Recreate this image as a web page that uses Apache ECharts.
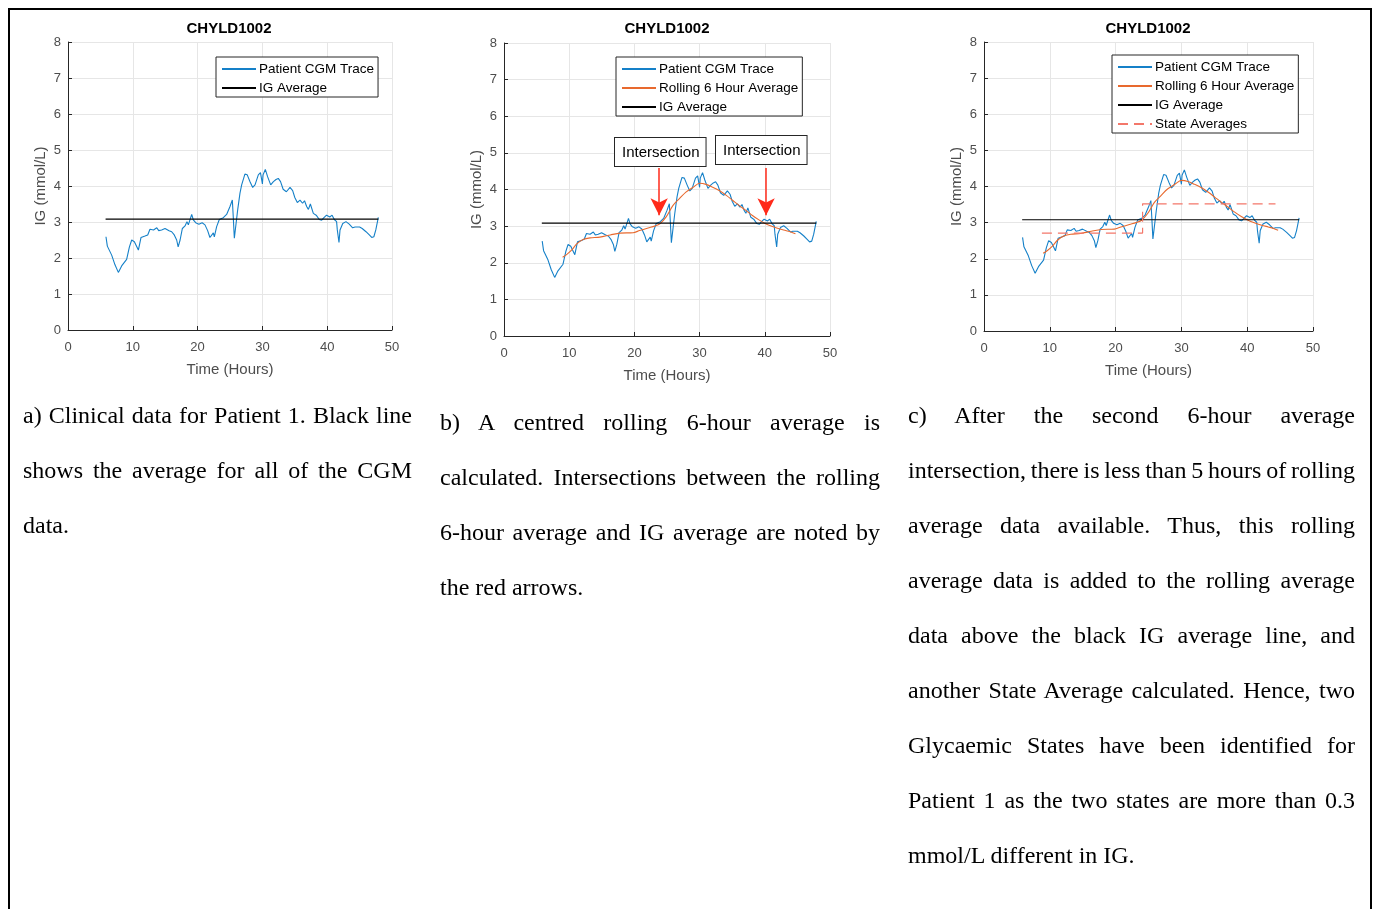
<!DOCTYPE html>
<html>
<head>
<meta charset="utf-8">
<script src="https://cdn.jsdelivr.net/npm/echarts@6/dist/echarts.min.js"></script>
<style>
  html, body { margin: 0; padding: 0; background: #fff; overflow: hidden; }
  #frame { position: absolute; left: 8px; top: 8px; width: 1364px; height: 930px; border: 2px solid #000; box-sizing: border-box; }
  #chart { position: absolute; left: 0; top: 0; width: 1375px; height: 909px; }
  .cap { position: absolute; font-family: "Liberation Serif", "Times New Roman", serif; font-size: 24px; color: #000; }
  .cap div { height: 55px; line-height: 55px; white-space: nowrap; text-align: justify; text-align-last: justify; word-spacing: -1.5px; }
  .cap div.last { text-align: left; text-align-last: left; word-spacing: 0; }
</style>
</head>
<body>
<div id="frame"></div>
<div id="chart"></div>
<div class="cap" id="capA" style="left:23px; top:388px; width:389px;"></div>
<div class="cap" id="capB" style="left:440px; top:395px; width:440px;"></div>
<div class="cap" id="capC" style="left:908px; top:388px; width:447px;"></div>
<script>
// ---- data ----
const chartTitle = 'CHYLD1002';
const xTicks = [0, 10, 20, 30, 40, 50];
const yTicks = [0, 1, 2, 3, 4, 5, 6, 7, 8];
const cgmTrace = [
  [5.86,2.59],[6.07,2.33],[6.33,2.30],[6.74,2.08],[7.25,1.81],[7.77,1.60],[8.28,1.78],[9.05,1.96],
  [9.47,2.30],[9.83,2.50],[10.24,2.45],[10.44,2.50],[10.86,2.22],[11.27,2.57],[11.88,2.61],[12.3,2.64],
  [12.65,2.80],[13.2,2.78],[13.7,2.84],[14.0,2.76],[14.45,2.78],[14.97,2.82],[15.2,2.78],[15.6,2.76],
  [16.0,2.73],[16.4,2.64],[16.77,2.50],[17.0,2.31],[17.3,2.50],[17.65,2.82],[18.06,2.89],[18.36,3.01],
  [18.57,2.92],[18.83,2.96],[19.09,3.21],[19.34,3.06],[19.7,2.98],[20.2,2.94],[20.7,2.98],[21.14,2.92],
  [21.55,2.76],[21.9,2.57],[22.17,2.54],[22.43,2.70],[22.58,2.59],[22.94,2.87],[23.35,3.07],[23.97,3.12],
  [24.48,3.21],[25.0,3.43],[25.36,3.61],[25.5,3.15],[25.67,2.55],[25.93,2.52],[26.18,3.33],[26.54,3.80],
  [26.8,4.03],[27.3,4.33],[27.66,4.31],[28.09,4.12],[28.5,3.96],[28.86,4.03],[29.37,4.31],[29.7,4.37],
  [29.86,4.33],[30.0,4.06],[30.1,4.31],[30.45,4.46],[30.8,4.26],[31.28,4.03],[31.7,4.12],[32.1,4.18],
  [32.45,4.21],[32.8,4.12],[33.2,3.91],[33.7,3.84],[34.26,3.96],[34.67,3.87],[35.0,3.68],[35.39,3.54],
  [35.8,3.61],[36.2,3.52],[36.5,3.59],[36.83,3.43],[37.1,3.35],[37.4,3.50],[37.86,3.24],[38.3,3.19],
  [38.78,3.07],[39.15,3.05],[39.5,3.12],[39.9,3.19],[40.4,3.14],[40.75,3.19],[41.1,3.07],[41.45,3.01],
  [41.56,2.78],[41.82,2.43],[41.98,2.78],[42.4,2.96],[42.9,3.01],[43.4,2.94],[43.93,2.84],[44.3,2.86],
  [44.6,2.84],[45.0,2.86],[45.4,2.82],[45.99,2.73],[46.5,2.64],[46.87,2.57],[47.2,2.59],[47.5,2.78],[47.89,3.13]
];
const rollingAvg = [
  [8.99,2.15],[9.64,2.23],[10.4,2.35],[11.2,2.52],[12.2,2.64],[13.2,2.68],[14.7,2.70],[16.3,2.76],
  [17.8,2.81],[19.8,2.82],[20.8,2.88],[22.1,2.95],[23.1,3.00],[23.9,3.06],[24.9,3.26],[25.9,3.56],
  [26.9,3.75],[27.9,3.93],[29.0,4.06],[30.0,4.17],[31.0,4.14],[32.0,4.06],[33.0,3.97],[34.1,3.84],
  [35.1,3.70],[36.1,3.56],[37.1,3.43],[38.1,3.29],[39.1,3.17],[40.2,3.06],[41.2,2.99],[42.2,2.93],
  [43.2,2.88],[44.0,2.84],[44.7,2.79]
];
const igAverage = [[5.8,3.08],[47.9,3.08]];
const stateAverages = [[8.8,2.71],[24.1,2.71],[24.1,3.52],[44.3,3.52]];
const arrowTimes = [23.8, 40.2];
const arrowFrom = 4.59;
const arrowTo = 3.30;
const annotationText = 'Intersection';
const seriesNames = ['Patient CGM Trace', 'Rolling 6 Hour Average', 'IG Average', 'State Averages'];
const xName = 'Time (Hours)';
const yName = 'IG (mmol/L)';
const captionA = ['a) Clinical data for Patient 1. Black line', 'shows the average for all of the CGM', 'data.'];
const captionB = ['b) A centred rolling 6-hour average is', 'calculated. Intersections between the rolling', '6-hour average and IG average are noted by', 'the red arrows.'];
const captionC = ['c) After the second 6-hour average', 'intersection, there is less than 5 hours of rolling', 'average data available. Thus, this rolling', 'average data is added to the rolling average', 'data above the black IG average line, and', 'another State Average calculated. Hence, two', 'Glycaemic States have been identified for', 'Patient 1 as the two states are more than 0.3', 'mmol/L different in IG.'];

// ---- captions ----
function fillCap(id, lines) {
  const el = document.getElementById(id);
  lines.forEach((l, i) => {
    const d = document.createElement('div');
    d.textContent = l;
    if (i === lines.length - 1) d.className = 'last';
    el.appendChild(d);
  });
}
fillCap('capA', captionA);
fillCap('capB', captionB);
fillCap('capC', captionC);

// ---- styles ----
const FONT = 'Liberation Sans, Arial, Helvetica, sans-serif';
const C_BLUE = '#1580c8';
const C_ORANGE = '#e8692e';
const C_STATE = '#f3776a';
const C_AXIS = '#262626';
const C_LABEL = '#4d4d4d';

const grids = [
  { left: 68, top: 42, width: 324, height: 288 },
  { left: 504, top: 43, width: 326, height: 293 },
  { left: 984, top: 42, width: 329, height: 289 }
];
const titleX = [224, 662, 1143];

function xAxis(i) {
  return {
    type: 'value', gridIndex: i, min: xTicks[0], max: xTicks[xTicks.length - 1], interval: xTicks[1] - xTicks[0],
    name: xName, nameLocation: 'middle', nameGap: 32,
    nameTextStyle: { color: C_LABEL, fontSize: 15, fontFamily: FONT },
    axisLine: { show: true, lineStyle: { color: C_AXIS, width: 1 } },
    axisTick: { show: true, inside: true, length: 4, lineStyle: { color: C_AXIS } },
    axisLabel: { color: C_LABEL, fontSize: 13, fontFamily: FONT, margin: 11 },
    splitLine: { show: true, lineStyle: { color: '#e6e6e6', width: 1 } }
  };
}
function yAxis(i) {
  return {
    type: 'value', gridIndex: i, min: yTicks[0], max: yTicks[yTicks.length - 1], interval: yTicks[1] - yTicks[0],
    name: yName, nameLocation: 'middle', nameGap: 20, nameRotate: 90,
    nameTextStyle: { color: C_LABEL, fontSize: 15, fontFamily: FONT },
    axisLine: { show: true, lineStyle: { color: C_AXIS, width: 1 } },
    axisTick: { show: true, inside: true, length: 4, lineStyle: { color: C_AXIS } },
    axisLabel: { color: C_LABEL, fontSize: 13, fontFamily: FONT, margin: 7 },
    splitLine: { show: true, lineStyle: { color: '#e6e6e6', width: 1 } }
  };
}

function cgmSeries(i) {
  return { name: seriesNames[0], type: 'line', xAxisIndex: i, yAxisIndex: i, data: cgmTrace, symbol: 'none',
    lineStyle: { color: C_BLUE, width: 1.1 }, itemStyle: { color: C_BLUE }, z: 2, animation: false };
}
function rollSeries(i, extra) {
  return Object.assign({ name: seriesNames[1], type: 'line', xAxisIndex: i, yAxisIndex: i, data: rollingAvg, symbol: 'none', smooth: 0.3,
    lineStyle: { color: C_ORANGE, width: 1.1 }, itemStyle: { color: C_ORANGE }, z: 3, animation: false }, extra || {});
}
function igSeries(i) {
  return { name: seriesNames[2], type: 'line', xAxisIndex: i, yAxisIndex: i, data: igAverage, symbol: 'none',
    lineStyle: { color: '#000', width: 1.2 }, itemStyle: { color: '#000' }, z: 4, animation: false };
}

function legend(left, top, names) {
  return {
    data: names, left: left, top: top, orient: 'vertical',
    itemWidth: 34, itemHeight: 12, itemGap: 5,
    padding: [5, 4, 2, 5],
    borderColor: C_AXIS, borderWidth: 1, backgroundColor: '#fff', borderRadius: 0,
    itemStyle: { opacity: 0, borderWidth: 0 },
    textStyle: { color: '#000', fontSize: 13.5, fontFamily: FONT, padding: [0, 0, 0, -2] },
    selectedMode: false
  };
}

const arrowMarkLine = {
  silent: true,
  symbol: ['none', 'arrow'],
  symbolSize: [13, 17],
  lineStyle: { color: '#ff2a1a', width: 1.5, type: 'solid' },
  itemStyle: { color: '#ff2a1a' },
  label: { show: false },
  data: arrowTimes.map(t => [{ coord: [t, arrowFrom] }, { coord: [t, arrowTo] }])
};

const option = {
  animation: false,
  backgroundColor: 'transparent',
  title: titleX.map((x) => ({
    text: chartTitle, left: x, top: 16, textAlign: 'center',
    textStyle: { fontSize: 15, fontWeight: 'bold', color: '#000', fontFamily: FONT }
  })),
  grid: grids,
  xAxis: [xAxis(0), xAxis(1), xAxis(2)],
  yAxis: [yAxis(0), yAxis(1), yAxis(2)],
  legend: [
    legend(216, 57, [seriesNames[0], seriesNames[2]]),
    legend(616, 57, [seriesNames[0], seriesNames[1], seriesNames[2]]),
    legend(1112, 55, [seriesNames[0], seriesNames[1], seriesNames[2], seriesNames[3]])
  ],
  series: [
    cgmSeries(0), igSeries(0),
    cgmSeries(1), rollSeries(1, { markLine: arrowMarkLine }), igSeries(1),
    cgmSeries(2), rollSeries(2),  igSeries(2),
    { name: seriesNames[3], type: 'line', xAxisIndex: 2, yAxisIndex: 2, data: stateAverages, symbol: 'none',
      lineStyle: { color: C_STATE, width: 1.2, type: [10, 6] }, itemStyle: { color: C_STATE }, z: 5, animation: false }
  ],
  graphic: [
    { type: 'text', left: 614, top: 137, z: 10,
      style: { text: annotationText, fontSize: 15, fontFamily: FONT, fill: '#000', backgroundColor: '#fff',
               borderColor: C_AXIS, borderWidth: 1, padding: [7, 6, 6, 7] } },
    { type: 'text', left: 715, top: 135, z: 10,
      style: { text: annotationText, fontSize: 15, fontFamily: FONT, fill: '#000', backgroundColor: '#fff',
               borderColor: C_AXIS, borderWidth: 1, padding: [7, 6, 6, 7] } }
  ]
};

const chart = echarts.init(document.getElementById('chart'), null, { renderer: 'canvas' });
chart.setOption(option);
</script>
</body>
</html>
